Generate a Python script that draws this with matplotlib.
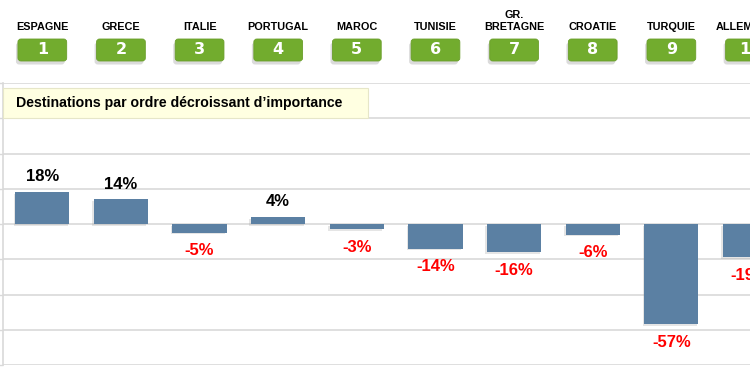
import matplotlib.pyplot as plt
import matplotlib.transforms as mtransforms
from matplotlib.patches import FancyBboxPatch, Rectangle
import matplotlib.patheffects as pe

# donnees
pays = ['ESPAGNE', 'GRECE', 'ITALIE', 'PORTUGAL', 'MAROC', 'TUNISIE',
        'GR.\nBRETAGNE', 'CROATIE', 'TURQUIE', 'ALLEMAGNE']
rangs = ['1', '2', '3', '4', '5', '6', '7', '8', '9', '10']
variation = [18, 14, -5, 4, -3, -14, -16, -6, -57, -19]

bleu = '#5B80A3'
vert = '#72AC2E'
grille = '#D9D9D9'

fig = plt.figure(figsize=(7.5, 3.75), dpi=100)
ax = fig.add_axes([3 / 750, 10 / 375, 1 - 3 / 750, 282 / 375])

x = list(range(len(pays)))
barres = ax.bar(x, variation, width=0.69, color=bleu, zorder=3)
for b in barres:
    b.set_path_effects([pe.SimplePatchShadow(offset=(-1.2, -1.2), shadow_rgbFace='#999999', alpha=0.25),
                        pe.Normal()])

# etiquettes de valeurs
for xi, v in zip(x, variation):
    if v >= 0:
        ax.annotate(f'{v}%', (xi, v), xytext=(0, 11), textcoords='offset points',
                    ha='center', va='center', fontsize=12, fontweight='bold',
                    family='Liberation Sans', color='black')
    else:
        ax.annotate(f'{v}%', (xi, v), xytext=(0, -13), textcoords='offset points',
                    ha='center', va='center', fontsize=12, fontweight='bold',
                    family='Liberation Sans', color='#FF0000')

ax.set_xlim(-0.5, 9.0)
ax.set_ylim(-80, 80)
ax.set_yticks(range(-80, 81, 20))
ax.set_yticklabels([])
ax.set_xticks([])
ax.tick_params(axis='y', length=3, color=grille, width=1)
ax.grid(axis='y', color=grille, linewidth=1.2, zorder=0)
for s in ['top', 'right', 'bottom']:
    ax.spines[s].set_visible(False)
ax.spines['left'].set_color(grille)
ax.spines['left'].set_linewidth(1.2)

# cadre du titre
fig.patches.append(Rectangle((3 / 750, (375 - 118) / 375), 365 / 750, 30 / 375,
                             transform=fig.transFigure, facecolor='#FFFFE1',
                             edgecolor='#E6E6C8', linewidth=0.8, zorder=5))
fig.text(16 / 750, (375 - 103) / 375, 'Destinations par ordre décroissant d’importance',
         ha='left', va='center', fontsize=10.2, fontweight='bold',
         family='Liberation Sans', zorder=6)

# en-tete : noms et rangs
trans = mtransforms.blended_transform_factory(ax.transData, fig.transFigure)
for xi, nom, r in zip(x, pays, rangs):
    fig.text(xi, (375 - 32.5) / 375, nom, transform=trans, ha='center', va='bottom',
             fontsize=7.8, fontweight='bold', family='Liberation Sans', linespacing=1.3)
    w = 0.62
    h = 22 / 375
    y0 = (375 - 61) / 375
    ombre = FancyBboxPatch((xi - w / 2 - 0.025, y0 - 3.5 / 375), w, h, transform=trans,
                           boxstyle='round,pad=0,rounding_size=0.04',
                           facecolor='#888888', edgecolor='none', alpha=0.3,
                           mutation_aspect=0.2, clip_on=False)
    boite = FancyBboxPatch((xi - w / 2, y0), w, h, transform=trans,
                           boxstyle='round,pad=0,rounding_size=0.04',
                           facecolor=vert, edgecolor='#6A9E2A', linewidth=0.6,
                           mutation_aspect=0.2, clip_on=False)
    fig.patches.append(ombre)
    fig.patches.append(boite)
    fig.text(xi, y0 + h / 2, r, transform=trans, ha='center', va='center',
             fontsize=11.5, fontweight='bold', color='white', family='DejaVu Sans',
             zorder=4)

fig.savefig('out.png', dpi=100)
